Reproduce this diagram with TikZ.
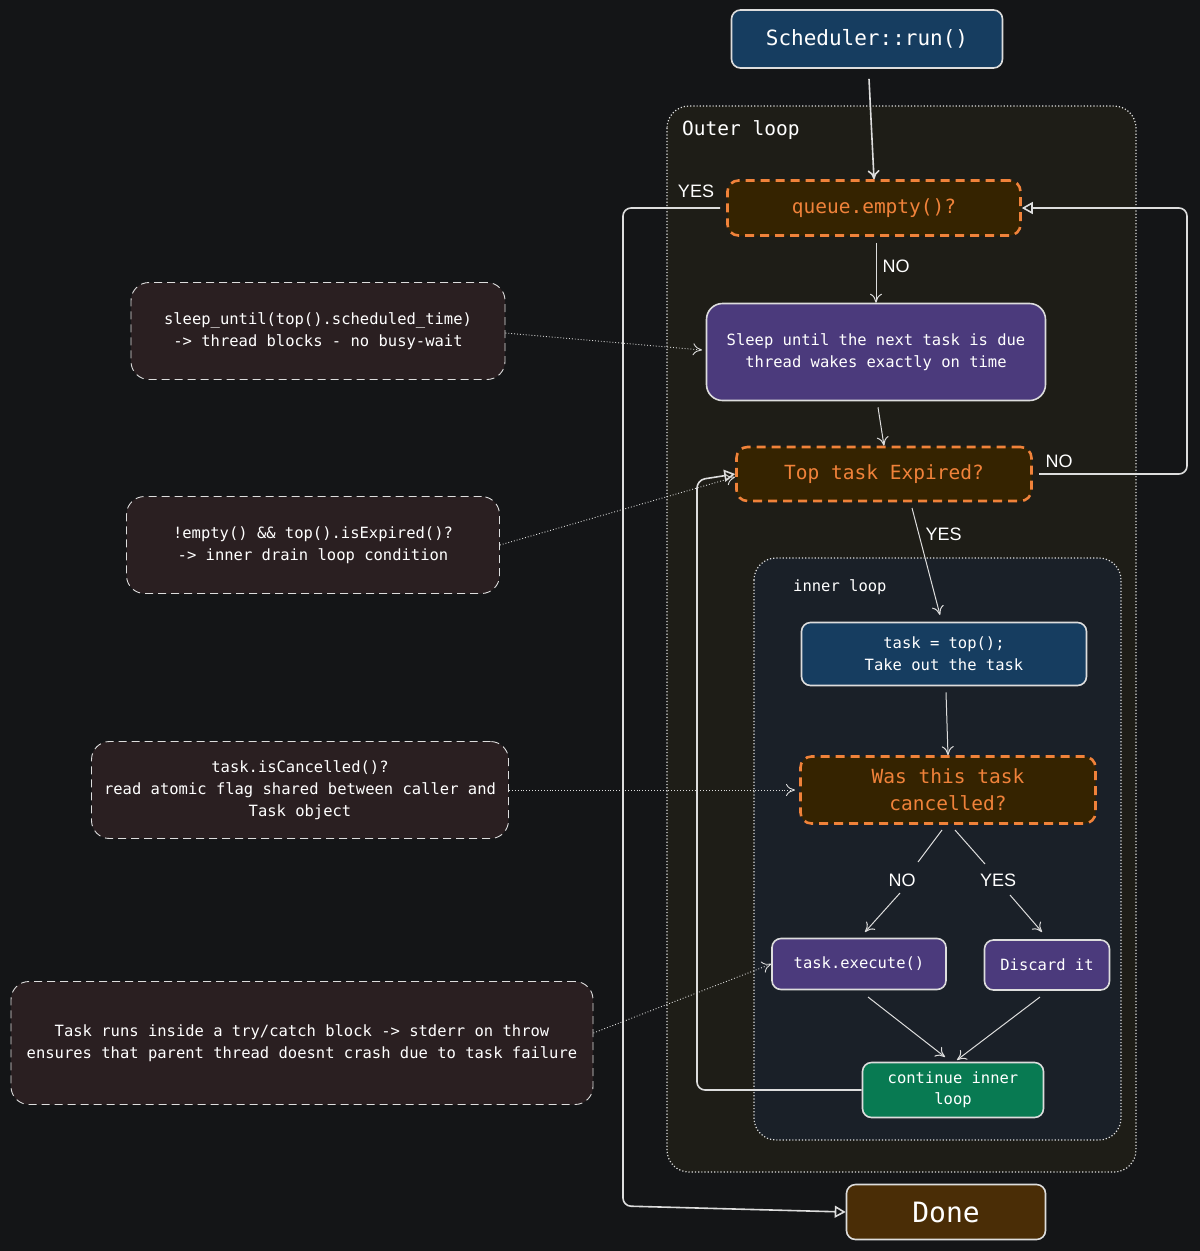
\documentclass[tikz,border=0pt]{standalone}
\usepackage{fontspec}
\setmainfont{DejaVu Sans Mono}
\newfontfamily\lbl{Liberation Sans}
\usetikzlibrary{arrows.meta}
\definecolor{bg}{HTML}{141517}
\definecolor{edge}{HTML}{DDDDDD}
\definecolor{org}{HTML}{F0823A}
\definecolor{orgfill}{HTML}{352300}
\definecolor{purp}{HTML}{4B3A7C}
\definecolor{blu}{HTML}{163D60}
\definecolor{grn}{HTML}{087A52}
\definecolor{brn}{HTML}{4A2D06}
\definecolor{notefill}{HTML}{2A1F21}
\definecolor{outerfill}{HTML}{1E1D17}
\definecolor{innerfill}{HTML}{1A2028}
\begin{document}
\begin{tikzpicture}[x=1pt,y=-1pt,
  box/.style={draw=edge,line width=1.6pt,rounded corners=9pt,text=white,align=center,inner sep=0pt,font=\fontsize{15.5}{22}\selectfont},
  dec/.style={draw=org,dash pattern=on 9pt off 6pt,line width=2.6pt,rounded corners=11pt,fill=orgfill,text=org,align=center,inner sep=0pt,font=\fontsize{19.5}{27}\selectfont},
  note/.style={draw=edge,dash pattern=on 8pt off 5pt,line width=0.9pt,rounded corners=18pt,fill=notefill,text=white,align=center,inner sep=0pt,font=\fontsize{15.5}{22}\selectfont},
  arr/.style={draw=edge,line width=1pt,-{To[length=9pt,width=12pt]}},
  loopa/.style={draw=edge,line width=1.6pt,rounded corners=8pt,-{Triangle[open,length=11pt,width=12pt]}},
  dota/.style={draw=edge,line width=0.9pt,dotted,-{To[length=9pt,width=12pt]}},
  lab/.style={text=white,font=\lbl\fontsize{18}{20}\selectfont,inner sep=0pt}]
\useasboundingbox[fill=bg] (0,0) rectangle (1200,1251);
% containers
\draw[edge,dotted,line width=1.2pt,rounded corners=22pt,fill=outerfill] (667,106) rectangle (1136,1172);
\draw[edge,dotted,line width=1.2pt,rounded corners=22pt,fill=innerfill] (754,558) rectangle (1121,1140);
\node[text=white,anchor=west,font=\fontsize{19.5}{22}\selectfont,inner sep=0pt] (outl) at (682,130) {Outer loop};
\node[text=white,anchor=west,font=\fontsize{15.5}{18}\selectfont,inner sep=0pt] (innl) at (793,587) {inner loop};
% nodes
\node[box,fill=blu,minimum width=271pt,minimum height=58pt,font=\fontsize{21}{24}\selectfont] (run) at (867,39) {Scheduler::run()};
\node[dec,minimum width=293pt,minimum height=55pt] (qe) at (874,208) {queue.empty()?};
\node[box,fill=purp,minimum width=339pt,minimum height=97pt,rounded corners=16pt] (sl) at (876,352) {Sleep until the next task is due\\thread wakes exactly on time};
\node[dec,minimum width=295pt,minimum height=54pt] (ex) at (884,474) {Top task Expired?};
\node[box,fill=blu,minimum width=285pt,minimum height=63pt] (tk) at (944,654) {task = top();\\Take out the task};
\node[dec,minimum width=295pt,minimum height=67pt] (ca) at (948,790) {Was this task\\cancelled?};
\node[box,fill=purp,minimum width=174pt,minimum height=51pt] (exe) at (859,964) {task.execute()};
\node[box,fill=purp,minimum width=125pt,minimum height=50pt] (dis) at (1047,965) {Discard it};
\node[box,fill=grn,minimum width=181pt,minimum height=55pt,font=\fontsize{15.5}{21}\selectfont] (co) at (953,1090) {continue inner\\loop};
\node[box,fill=brn,minimum width=199pt,minimum height=55pt,font=\fontsize{28}{30}\selectfont] (dn) at (946,1212) {Done};
% notes
\node[note,minimum width=374pt,minimum height=97pt] (n1) at (318,331) {sleep\_until(top().scheduled\_time)\\-> thread blocks - no busy-wait};
\node[note,minimum width=373pt,minimum height=97pt] (n2) at (313,545) {!empty() \&\& top().isExpired()?\\-> inner drain loop condition};
\node[note,minimum width=417pt,minimum height=97pt] (n3) at (300,790) {task.isCancelled()?\\read atomic flag shared between caller and\\Task object};
\node[note,minimum width=582pt,minimum height=123pt] (n4) at (302,1043) {Task runs inside a try/catch block -> stderr on throw\\ensures that parent thread doesnt crash due to task failure};
% edges
\draw[arr,line width=1.6pt] (run.south) ++(2,10) -- (qe.north);
\draw[arr] (qe.south) ++(2,6) -- node[lab,right=6pt,pos=0.4]{NO} (sl.north);
\draw[arr] (sl.south) ++(2,6) -- (ex.north);
\draw[arr] (912,508) -- node[lab,right=6pt,pos=0.25]{YES} (940,615);
\draw[arr] (tk.south) ++(2,6) -- (ca.north);
\draw[edge,line width=1pt] (942,830) -- (918,862);
\draw[arr] (900,893) -- (865,932);
\node[lab] (nol) at (902,880) {NO};
\draw[edge,line width=1pt] (955,830) -- (985,864);
\draw[arr] (1010,895) -- (1042,932);
\node[lab] (yesl) at (998,880) {YES};
\draw[arr] (868,997) -- (945,1057);
\draw[arr] (1040,997) -- (957,1060);
% loops
\draw[loopa] (720,208) -- (623,208) -- (623,1206) -- (dn.west);
\node[lab] (yq) at (696,191) {YES};
\draw[loopa] (1039,474) -- (1187,474) -- (1187,208) -- (qe.east);
\node[lab] (nq) at (1059,461) {NO};
\draw[loopa] (co.west) -- (697,1090) -- (697,480) -- (ex.west);
% dotted note links
\draw[dota] (n1.east) ++(0,2) -- (702,350);
\draw[dota] (n2.east) -- (735,477);
\draw[dota] (n3.east) -- (795,790);
\draw[dota] (n4.east) ++(0,-10) -- (exe.west);
\end{tikzpicture}
\end{document}
